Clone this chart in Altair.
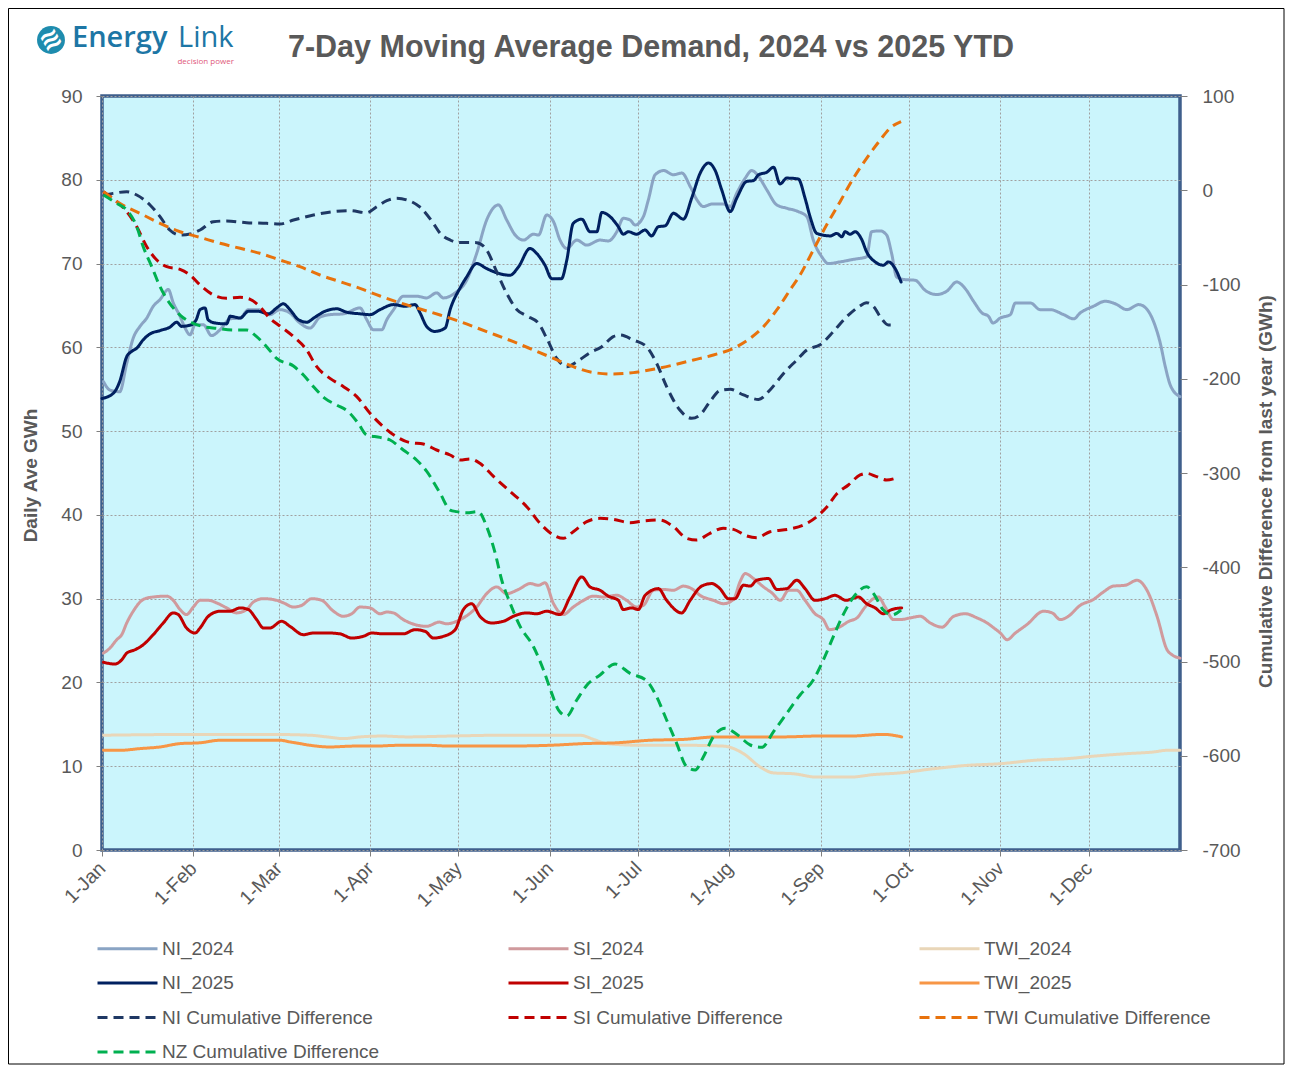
import altair as alt
import pandas as pd

# ---------------- data (day of year offset from 1-Jan, value) ----------------
NI_2024_D = [0.5, 2.7, 6, 8.4, 10.6, 12.9, 15.2, 17.4, 19.7, 22.5, 24.2, 26.5, 28.2, 29.9, 31.6, 34.4, 37.2, 40.1, 43.5, 46.9, 49.7, 53, 57, 60.4, 63.8, 67.2, 70.6, 74, 77.4, 82, 87.6, 89.9, 92.1, 95, 96.7, 99, 102.3, 106.8, 110.2, 113.6, 115.9, 119.9, 123.8, 127.2, 130.6, 134.6, 137.4, 140.3, 143.1, 146.5, 148.2, 151, 153.3, 155.5, 157.8, 161.2, 164.6, 169.1, 171.9, 174.8, 177, 179.3, 181, 183.8, 185.5, 187.8, 190.7, 194, 196.9, 199.7, 202, 204.2, 207, 211, 213.3, 215.5, 218.4, 220.6, 222.9, 225.7, 229.1, 232.5, 236.4, 239.3, 241.5, 244.4, 246.6, 250.6, 255.1, 259.6, 261.3, 264.2, 266.4, 268.1, 269.8, 272.1, 276.1, 279.5, 283.4, 286.8, 290.2, 293.1, 295.9, 298.8, 301, 302.5, 305, 308.4, 310.1, 315.2, 318.5, 321.9, 326.5, 329.9, 332.1, 336.6, 340.6, 344, 348, 352, 353.7, 357, 359.3, 361, 362.7, 366]
NI_2024_V = [55.9, 54.9, 54.7, 58.1, 61.1, 62.5, 63.5, 64.9, 65.7, 66.9, 65.3, 63.7, 62.3, 61.5, 62.7, 62.7, 61.4, 62.1, 63.4, 63.5, 64.5, 64.5, 63.9, 64.5, 64.1, 62.9, 62.3, 63.6, 63.9, 64.0, 64.7, 63.3, 62.1, 62.1, 63.3, 64.5, 66.1, 66.1, 65.9, 66.5, 65.9, 66.5, 68.0, 71.2, 75.2, 77.0, 75.2, 73.4, 72.8, 73.5, 73.4, 75.8, 75.0, 72.8, 71.8, 72.8, 72.2, 72.8, 72.7, 73.8, 75.4, 75.2, 74.6, 75.6, 77.6, 80.6, 81.1, 80.6, 80.8, 79.2, 77.6, 76.8, 77.1, 77.1, 76.8, 78.4, 80.2, 81.1, 80.4, 78.8, 77.0, 76.6, 76.2, 75.6, 72.8, 70.8, 70.0, 70.2, 70.5, 70.8, 73.8, 73.9, 73.4, 71.2, 68.4, 68.1, 68.0, 66.8, 66.3, 66.7, 67.8, 67.0, 65.5, 64.1, 63.7, 62.9, 63.5, 63.9, 65.3, 65.3, 64.5, 64.5, 63.9, 63.4, 64.1, 64.9, 65.5, 65.2, 64.5, 65.1, 64.9, 63.1, 60.5, 57.7, 55.5, 54.1]

SI_2024_D = [0.5, 2.7, 5, 6.7, 8.4, 10.6, 14, 17.4, 22, 24.2, 26.5, 28.7, 31, 33.3, 36.1, 39.5, 42.3, 45.7, 49.1, 51.4, 54.8, 59.3, 61.6, 65, 67.8, 71.2, 74.6, 78.6, 81.9, 84.8, 87.6, 91, 94.4, 96.7, 98.9, 102.3, 106.3, 110.2, 114.5, 117, 121.6, 127.2, 130.6, 134, 137.4, 141.4, 145.4, 148.2, 150.4, 153.3, 156.6, 160, 163.5, 166.8, 170.3, 174.8, 178.1, 181.5, 183.8, 187.2, 190.6, 194, 197.4, 200.2, 203, 207.6, 211, 214.4, 216.6, 218.4, 221.2, 224.6, 227.4, 230.3, 233.1, 235.9, 238.7, 242.1, 244.9, 247, 250.3, 253.6, 256.3, 259.1, 261.9, 263.6, 265.9, 268.7, 270.9, 274.4, 277.8, 281.2, 285.2, 289.2, 293.1, 297.1, 300.5, 302.8, 305, 307.3, 310.1, 314, 319.7, 322.6, 325.4, 328.1, 332.1, 336.6, 340, 343.4, 347.4, 351.4, 354.8, 358.2, 361.6, 363.3, 366]
SI_2024_V = [23.5, 24.1, 25.1, 25.7, 27.1, 28.5, 29.9, 30.2, 30.3, 29.8, 28.7, 28.1, 29.0, 29.8, 29.8, 29.4, 28.9, 28.3, 28.7, 29.6, 30.0, 29.8, 29.5, 29.0, 29.2, 30.0, 29.8, 28.5, 27.9, 28.2, 29.0, 28.9, 28.2, 28.4, 28.3, 27.5, 26.9, 26.7, 27.2, 27.0, 27.5, 29.0, 30.6, 31.4, 30.6, 31.1, 31.8, 31.6, 31.9, 29.4, 28.1, 29.0, 29.8, 30.3, 30.2, 30.4, 29.8, 29.0, 29.2, 31.0, 31.1, 31.0, 31.5, 31.2, 30.4, 29.8, 29.4, 29.9, 32.0, 33.0, 32.4, 31.4, 30.7, 29.8, 31.0, 31.0, 29.8, 28.2, 27.5, 26.3, 26.6, 27.3, 27.7, 29.0, 30.0, 30.2, 29.0, 27.5, 27.5, 27.7, 27.9, 27.1, 26.6, 27.9, 28.2, 27.7, 27.1, 26.5, 25.9, 25.1, 25.9, 26.9, 28.5, 28.3, 27.5, 27.9, 29.2, 29.9, 30.8, 31.5, 31.6, 32.2, 31.0, 27.9, 23.9, 23.3, 22.9]

TWI_2024_D = [0.5, 33.3, 55.9, 70.6, 76.3, 81.9, 87.6, 95.5, 103.5, 118.2, 135.2, 162.3, 166.9, 171.4, 182.7, 197.4, 211, 217.8, 223.5, 228, 234.8, 242.7, 254, 261.9, 270.9, 282.3, 293.6, 305, 316.3, 327.6, 336.6, 348, 357, 361.6, 366]
TWI_2024_V = [13.7, 13.8, 13.8, 13.7, 13.5, 13.3, 13.5, 13.6, 13.5, 13.6, 13.7, 13.7, 13.2, 12.7, 12.5, 12.5, 12.4, 11.5, 9.9, 9.2, 9.1, 8.7, 8.7, 9.0, 9.2, 9.7, 10.1, 10.3, 10.7, 10.9, 11.2, 11.5, 11.7, 11.9, 11.9]

NI_2025_D = [0, 3.8, 6, 8.4, 10, 11.8, 14, 16.3, 19.7, 23, 25.4, 27, 30.4, 32, 33.3, 35, 36, 38.4, 42.3, 43.5, 46.9, 49.7, 53, 56.5, 59.3, 61.6, 63.8, 66.7, 69.5, 72.3, 75.7, 79.7, 83, 87.6, 91, 94.4, 99, 102.9, 106.3, 108, 110.2, 113, 116.5, 118.2, 121.6, 123.8, 127.2, 130.6, 134, 138.5, 141.4, 145.3, 147.6, 150.4, 152.7, 156, 157.8, 160, 162.9, 165.7, 168, 169.7, 172.5, 175.3, 177, 178.7, 181.5, 184.4, 186.6, 188.9, 191.2, 194, 197.4, 200.2, 203.1, 205.9, 208.2, 210.4, 213.3, 215.5, 218.9, 221.2, 222.9, 225.7, 228, 230.2, 232.5, 236.4, 238.7, 240.4, 242.7, 247.2, 249.5, 251.2, 252.3, 254, 255.7, 257.9, 259.6, 262.5, 265.3, 267, 269.3, 271.3]
NI_2025_V = [53.9, 54.5, 55.9, 58.9, 59.5, 59.9, 60.9, 61.6, 62.0, 62.4, 63.0, 62.5, 62.7, 63.3, 64.5, 64.7, 63.3, 62.9, 62.8, 63.7, 63.5, 64.3, 64.3, 64.0, 64.7, 65.2, 64.5, 63.3, 63.0, 63.6, 64.3, 64.6, 64.2, 64.0, 63.9, 64.5, 65.1, 64.9, 65.1, 64.1, 62.5, 61.9, 62.3, 64.5, 67.1, 68.4, 70.0, 69.4, 68.9, 68.6, 69.6, 71.8, 71.2, 69.8, 68.2, 68.2, 70.4, 74.8, 75.3, 73.8, 73.8, 76.1, 75.6, 74.4, 73.5, 73.8, 73.5, 74.0, 73.3, 74.4, 74.5, 76.0, 75.3, 77.8, 80.8, 82.0, 81.1, 78.8, 76.2, 77.8, 79.8, 79.9, 80.6, 80.9, 81.5, 79.5, 80.2, 80.1, 77.8, 75.6, 73.6, 73.3, 73.6, 73.2, 73.8, 73.5, 73.8, 72.9, 71.4, 70.2, 69.8, 70.2, 69.4, 67.8]

SI_2025_D = [0.5, 4.4, 6.7, 8.4, 11.2, 14, 17.4, 20.8, 24.2, 25.9, 28.7, 31.6, 33.3, 36.1, 40.1, 43.5, 46.9, 49.7, 52.5, 54.8, 57, 61, 63.8, 68.4, 71.8, 76.9, 80.8, 84.8, 88.7, 91.6, 95.5, 102.3, 106.3, 109.7, 112.5, 115.9, 119.9, 122.7, 125.5, 128.3, 132.3, 136.3, 139.7, 144.2, 147.6, 151, 155.5, 158.9, 162.9, 165.7, 169.1, 171.9, 175.3, 177, 179.8, 182.1, 184.4, 188.9, 191.7, 196.8, 199.7, 203.6, 207, 209.8, 212.7, 214.9, 217.8, 220.1, 222.3, 226.3, 229.1, 232.5, 235.9, 238.7, 242.1, 245.5, 248.9, 252.6, 256.8, 259.6, 262.5, 265.3, 268.1, 271.5]
SI_2025_V = [22.4, 22.2, 22.7, 23.5, 23.9, 24.5, 25.7, 27.1, 28.3, 28.1, 26.5, 25.9, 26.5, 27.9, 28.5, 28.5, 28.9, 28.7, 27.5, 26.5, 26.5, 27.3, 26.7, 25.7, 25.9, 25.9, 25.8, 25.3, 25.5, 25.9, 25.8, 25.8, 26.3, 26.1, 25.3, 25.5, 26.3, 28.7, 29.4, 27.9, 27.1, 27.3, 27.9, 28.3, 28.2, 28.5, 28.1, 30.2, 32.6, 31.4, 31.0, 30.3, 29.8, 28.7, 28.9, 28.7, 30.4, 31.2, 29.8, 28.3, 29.8, 31.5, 31.8, 31.2, 30.0, 30.0, 31.6, 31.5, 32.2, 32.4, 31.1, 31.2, 32.2, 31.2, 29.8, 30.0, 30.4, 29.8, 30.2, 29.4, 28.9, 28.2, 28.7, 28.9]

TWI_2025_D = [0.5, 6, 12.9, 19.7, 26.5, 33.3, 40.1, 46.9, 53.6, 60.4, 63.8, 67.2, 70.6, 77.4, 85.3, 92.1, 101.2, 110.2, 118.2, 135.2, 152.2, 163.5, 174.8, 186.1, 197.4, 208.7, 220.1, 231.4, 242.7, 254, 265.3, 271.5]
TWI_2025_V = [11.9, 11.9, 12.1, 12.3, 12.7, 12.8, 13.1, 13.1, 13.1, 13.1, 12.9, 12.7, 12.5, 12.3, 12.4, 12.4, 12.5, 12.5, 12.4, 12.4, 12.5, 12.7, 12.8, 13.1, 13.2, 13.5, 13.5, 13.5, 13.6, 13.6, 13.8, 13.5]

NI_CUM_D = [0.5, 3.8, 8.4, 11.8, 16.3, 19.7, 23, 26.5, 29.9, 33.3, 37.8, 42.3, 49.1, 55.9, 60.4, 65, 71.8, 78.6, 84.2, 89.9, 93.3, 96.7, 100, 103.5, 108, 112.5, 114.8, 118.2, 120.4, 127.2, 130.6, 134, 137.4, 140.8, 144.2, 148.2, 151, 154.4, 157.8, 161.2, 165.7, 169.7, 173.6, 175.9, 180.4, 184.9, 188.3, 191.7, 196.2, 200.2, 203, 206.4, 209.8, 213.3, 217.8, 222.9, 226.8, 231.4, 235.9, 239.3, 243.8, 248.3, 252.3, 257, 259.6, 262, 264.2, 267, 269.8]
NI_CUM_V = [-5, -3.3, -1.5, -5, -15.6, -28, -42.2, -47.5, -46.4, -42.2, -33.3, -32.6, -34.4, -35.1, -35.8, -31.6, -26.3, -22.7, -21.7, -23.8, -17.4, -11.1, -8.6, -10.3, -18, -35.1, -45.7, -52.8, -55.3, -55.6, -63.4, -86.4, -109.4, -126.4, -133.4, -141.2, -157.1, -178.4, -187.2, -181.9, -172.3, -166, -155.3, -153.6, -158.9, -166, -183.6, -208.4, -233.2, -242, -238.5, -224.3, -212.6, -211.2, -217.2, -221.9, -211.9, -194.3, -180.1, -169.5, -164, -150, -135.9, -123.5, -119.3, -123.5, -134.1, -143, -143]

SI_CUM_D = [0.5, 5, 8.4, 11.8, 15.2, 18.6, 22, 26.5, 29.9, 33.3, 37.8, 42.3, 46.9, 50.3, 53.6, 57, 60.4, 65, 69.5, 72.9, 77.4, 82, 86.5, 91, 95.5, 100, 104.6, 109.1, 113.6, 118.2, 121.6, 125, 128.3, 133, 138.6, 144.2, 148.7, 153.3, 156.6, 160, 164.6, 169.1, 173.6, 179.3, 183.8, 189.4, 194, 198.5, 201.9, 206.4, 210.9, 214.4, 218.9, 222.3, 226.8, 233.6, 238.2, 242.7, 246.1, 249.5, 253.4, 257.4, 259.6, 263, 266.4, 269.3]
SI_CUM_V = [-1.5, -12.1, -22.7, -38.6, -59.9, -74, -81.1, -83.9, -89.9, -100.5, -111.1, -114.7, -113.6, -115.7, -123.5, -135.9, -144, -155.3, -169.5, -187.2, -199.6, -208.4, -219, -236.7, -250.8, -261.5, -267.8, -269.2, -275.6, -280.9, -286.2, -285, -289.7, -303.9, -319.8, -335.7, -353.4, -365.8, -369.3, -362.3, -351.6, -348.1, -349.2, -352.7, -350.9, -349.9, -356.9, -369.3, -371.1, -364, -358.7, -359.8, -366.8, -368.6, -362.3, -359.4, -355.2, -346.3, -336, -322, -312.7, -302.1, -300.4, -303.9, -307.4, -305.7]

TWI_CUM_D = [0.5, 6, 12.9, 19.7, 26.5, 33.3, 40.1, 46.9, 53.6, 60.4, 67.2, 74, 80.8, 87.6, 94.4, 101.2, 108, 114.8, 121.6, 130.6, 139.7, 146.5, 153.3, 160, 166.9, 173.6, 180.4, 187.2, 194, 200.8, 207.6, 214.4, 220.1, 224.6, 229.1, 233.6, 237, 241.5, 246, 250.6, 255.1, 259.6, 264.2, 267.5, 271.3]
TWI_CUM_V = [-1.5, -13.9, -24.5, -35.1, -44, -50, -56.3, -61.6, -66.9, -74, -81.1, -89.9, -97, -104.1, -112.2, -119.5, -126, -132.4, -139.4, -150, -160.7, -169.5, -178.4, -187.2, -193.5, -195, -193.5, -190, -185.4, -180.1, -174.8, -167.7, -157.1, -144.7, -127, -105.8, -90, -63.4, -36.9, -12.1, 12.7, 33.9, 53.3, 65.7, 72.8]

NZ_CUM_D = [0.5, 5, 8.4, 11.8, 14, 16.9, 19.7, 23, 26.5, 30.4, 34.4, 38.9, 44.6, 49.1, 52.5, 55.9, 59.3, 65, 68.4, 71.8, 75.7, 79.7, 83.6, 87, 89.9, 94.4, 97.8, 102.3, 106.8, 110.2, 114.8, 118.2, 120.4, 123.8, 127.8, 130.6, 133.5, 135.7, 138.6, 142, 146.5, 149.9, 152.7, 155, 157.8, 161.2, 164.6, 169.1, 174.2, 179.3, 184.9, 188.3, 191.7, 195.1, 198.5, 201.4, 204.2, 207.6, 211.6, 215.5, 220.1, 224, 228, 232.5, 237, 241.5, 244.9, 248.3, 251.7, 255.7, 259.6, 261.9, 265.3, 268.1, 271.3]
NZ_CUM_V = [-5, -13.9, -20.9, -38.6, -59.9, -81.1, -102.3, -120, -132.4, -140.5, -144.7, -146.5, -148.3, -148.3, -155.3, -166, -178.4, -186.5, -196.1, -208.4, -220.8, -227.9, -235, -247.3, -259.7, -262.2, -265, -275.6, -286.2, -298, -321.6, -339.3, -341, -342.1, -341, -356.9, -385.2, -413.5, -438.3, -463, -484.3, -509, -533.8, -551.5, -557.8, -540.9, -525.1, -514.3, -502.7, -512.6, -520.3, -537.3, -562.1, -586.8, -611.6, -615.1, -601, -579.8, -570.9, -577.1, -588.6, -591.1, -574.4, -555, -535.5, -519.6, -498.4, -473.6, -450, -429.4, -420.6, -427.7, -445.4, -450.7, -445.4]

SERIES = ["NI_2024", "SI_2024", "TWI_2024", "NI_2025", "SI_2025", "TWI_2025",
          "NI Cumulative Difference", "SI Cumulative Difference",
          "TWI Cumulative Difference", "NZ Cumulative Difference"]
COLORS = ["#8aa4c4", "#d09a9d", "#e9d6b8", "#002060", "#c00000", "#f79646",
          "#1f3864", "#c00000", "#e8720c", "#00b050"]
DASHES = [[1, 0]] * 6 + [[10, 6]] * 4
WIDTHS = [3, 3, 4, 4.5, 4.5, 4.5, 3, 3, 3, 3]

MONTH_TICKS = list(range(1, 13))
TITLE = "7-Day Moving Average Demand, 2024 vs 2025 YTD"
Y_LEFT_TITLE = "Daily Ave GWh"
Y_RIGHT_TITLE = "Cumulative Difference from last year (GWh)"
LOGO_1 = "Energy"
LOGO_2 = "Link"
LOGO_3 = "decision power"

FONT = "Liberation Sans, Arial, sans-serif"
GREY = "#595959"


def frame(name, days, vals):
    base = pd.Timestamp("2024-01-01")
    dates = [(base + pd.Timedelta(days=d)).strftime("%Y-%m-%dT%H:%M:%SZ") for d in days]
    return pd.DataFrame({"date": dates, "value": vals, "series": name})


left_df = pd.concat([
    frame("NI_2024", NI_2024_D, NI_2024_V),
    frame("SI_2024", SI_2024_D, SI_2024_V),
    frame("TWI_2024", TWI_2024_D, TWI_2024_V),
    frame("NI_2025", NI_2025_D, NI_2025_V),
    frame("SI_2025", SI_2025_D, SI_2025_V),
    frame("TWI_2025", TWI_2025_D, TWI_2025_V),
], ignore_index=True)

right_df = pd.concat([
    frame("NI Cumulative Difference", NI_CUM_D, NI_CUM_V),
    frame("SI Cumulative Difference", SI_CUM_D, SI_CUM_V),
    frame("TWI Cumulative Difference", TWI_CUM_D, TWI_CUM_V),
    frame("NZ Cumulative Difference", NZ_CUM_D, NZ_CUM_V),
], ignore_index=True)

legend = alt.Legend(
    title=None, orient="none", legendX=14, legendY=841, columns=3,
    direction="horizontal",
    symbolType="M-3,0H3", symbolSize=400, labelOffset=23,
    gridAlign="all", columnPadding=113, rowPadding=12.5, padding=0,
    labelFont=FONT, labelFontSize=19, labelColor=GREY, labelLimit=400,
)

x_enc = alt.X(
    "date:T",
    scale=alt.Scale(type="utc", nice=False, domain=[
        alt.DateTime(year=2024, month=1, date=1, utc=True),
        alt.DateTime(year=2025, month=1, date=1, utc=True)]),
    axis=alt.Axis(
        values=[alt.DateTime(year=2024, month=m, date=1, utc=True) for m in MONTH_TICKS],
        labelExpr="utcFormat(datum.value, '%-d-%b')", title=None,
        labelAngle=315, labelAlign="right", labelBaseline="middle",
        labelPadding=9, tickSize=6, tickColor="#7f7f7f", domain=False,
        grid=True, gridDash=[2, 2], gridColor="#a0a0a0", gridWidth=1,
        labelFont=FONT, labelFontSize=19.5, labelColor=GREY,
    ),
)

color_enc = alt.Color("series:N", scale=alt.Scale(domain=SERIES, range=COLORS), legend=legend)
dash_enc = alt.StrokeDash("series:N", scale=alt.Scale(domain=SERIES, range=DASHES), legend=legend)
width_enc = alt.StrokeWidth("series:N", scale=alt.Scale(domain=SERIES, range=WIDTHS), legend=legend)

left = alt.Chart(left_df).mark_line(
    interpolate="monotone", strokeCap="round", strokeJoin="round"
).encode(
    x=x_enc,
    y=alt.Y("value:Q", scale=alt.Scale(domain=[0, 90], nice=False),
            axis=alt.Axis(values=list(range(0, 91, 10)), title=Y_LEFT_TITLE,
                          titleX=-72, titleY=379, titleAngle=270,
                          titleAlign="center", titleBaseline="middle",
                          titleFont=FONT, titleFontSize=19, titleFontWeight="bold",
                          titleColor=GREY, labelFont=FONT, labelFontSize=19,
                          labelColor=GREY, labelPadding=14, tickSize=6,
                          tickColor="#7f7f7f", domain=False, grid=True,
                          gridDash=[2, 2], gridColor="#a0a0a0", gridWidth=1)),
    color=color_enc, strokeDash=dash_enc, strokeWidth=width_enc,
    order=alt.Order("date:T"),
)

right = alt.Chart(right_df).mark_line(
    interpolate="monotone", strokeCap="butt"
).encode(
    x=x_enc,
    y=alt.Y("value:Q", scale=alt.Scale(domain=[-700, 100], nice=False),
            axis=alt.Axis(orient="right", values=list(range(-700, 101, 100)),
                          labelExpr="datum.value + ''",
                          title=Y_RIGHT_TITLE, titleX=85, titleY=395,
                          titleAngle=270, titleAlign="center",
                          titleBaseline="middle", titleFont=FONT,
                          titleFontSize=19, titleFontWeight="bold",
                          titleColor=GREY, labelFont=FONT, labelFontSize=19,
                          labelColor=GREY, labelPadding=15, tickSize=7,
                          tickColor="#7f7f7f", domain=False, grid=False)),
    color=color_enc, strokeDash=dash_enc, strokeWidth=width_enc,
    order=alt.Order("date:T"),
)

one = pd.DataFrame({"k": [0]})

border = alt.Chart(one).mark_rect(fillOpacity=0, stroke="#000000", strokeWidth=1).encode(
    x=alt.value(-93.5), x2=alt.value(1182), y=alt.value(-87.5), y2=alt.value(968)
)

title = alt.Chart(pd.DataFrame({"t": [TITLE]})).mark_text(
    font=FONT, fontSize=30.5,
    fontWeight="bold", color=GREY, align="center", baseline="alphabetic"
).encode(text="t:N", x=alt.value(549), y=alt.value(-39))

logo_circle = alt.Chart(one).mark_point(
    shape="circle", filled=True, size=780, color="#1e8cae", opacity=1
).encode(x=alt.value(-51), y=alt.value(-56))

logo_wave = alt.Chart(pd.DataFrame({"t": ["≋"]})).mark_text(
    fontSize=26, color="white", angle=330, align="center", baseline="middle",
    font="DejaVu Sans", fontWeight="bold"
).encode(text="t:N", x=alt.value(-51), y=alt.value(-56))

logo_1 = alt.Chart(pd.DataFrame({"t": [LOGO_1]})).mark_text(
    font="Open Sans", fontSize=29, fontWeight=600, color="#1d76a5",
    align="left", baseline="alphabetic"
).encode(text="t:N", x=alt.value(-30), y=alt.value(-49))

logo_2 = alt.Chart(pd.DataFrame({"t": [LOGO_2]})).mark_text(
    font="Open Sans", fontSize=29, fontWeight="normal", color="#1d76a5",
    align="left", baseline="alphabetic"
).encode(text="t:N", x=alt.value(76), y=alt.value(-49))

logo_3 = alt.Chart(pd.DataFrame({"t": [LOGO_3]})).mark_text(
    font="Open Sans", fontSize=8, color="#e0577a",
    align="right", baseline="alphabetic"
).encode(text="t:N", x=alt.value(132), y=alt.value(-32))

chart = alt.layer(
    left, right, border, title, logo_circle, logo_wave, logo_1, logo_2, logo_3
).resolve_scale(
    y="independent"
).properties(
    width=1078, height=754, padding=0, background="white"
).configure_view(
    fill="#cbf5fc", stroke="#3f5f8c", strokeWidth=3.5
)

chart.save("out.html", embed_options={"renderer": "svg", "actions": False})
